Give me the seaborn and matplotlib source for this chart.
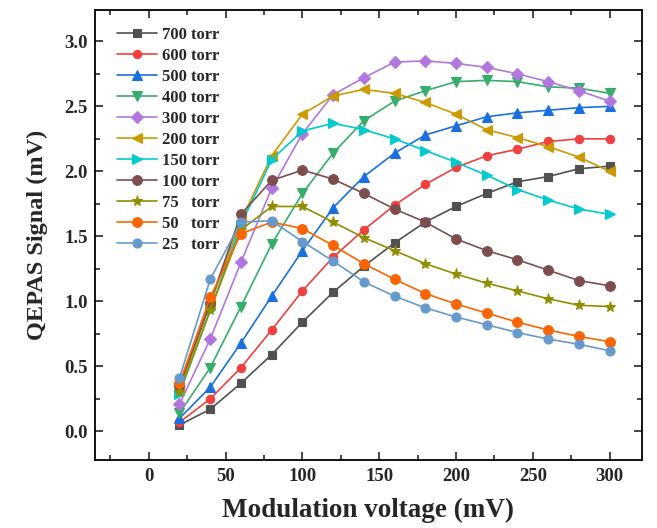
import numpy as np
import pandas as pd
import matplotlib
matplotlib.use("Agg")
import matplotlib.pyplot as plt
from matplotlib.ticker import MultipleLocator
import seaborn as sns

voltage = [20, 40, 60, 80, 100, 120, 140, 160, 180, 200, 220, 240, 260, 280, 300]

p700 = [0.05, 0.17, 0.37, 0.59, 0.84, 1.07, 1.27, 1.45, 1.61, 1.73, 1.83, 1.92, 1.96, 2.02, 2.04]
p600 = [0.07, 0.25, 0.49, 0.78, 1.08, 1.34, 1.55, 1.74, 1.90, 2.03, 2.12, 2.17, 2.23, 2.25, 2.25]
p500 = [0.10, 0.34, 0.68, 1.04, 1.39, 1.72, 1.96, 2.14, 2.28, 2.35, 2.42, 2.45, 2.47, 2.49, 2.50]
p400 = [0.14, 0.49, 0.96, 1.44, 1.83, 2.14, 2.39, 2.54, 2.62, 2.69, 2.70, 2.69, 2.65, 2.64, 2.60]
p300 = [0.21, 0.71, 1.30, 1.87, 2.29, 2.59, 2.72, 2.84, 2.85, 2.83, 2.80, 2.75, 2.69, 2.62, 2.54]
p200 = [0.32, 0.98, 1.62, 2.12, 2.44, 2.58, 2.63, 2.60, 2.53, 2.44, 2.32, 2.26, 2.19, 2.11, 2.00]
p150 = [0.29, 0.93, 1.59, 2.09, 2.31, 2.37, 2.32, 2.25, 2.16, 2.07, 1.97, 1.86, 1.78, 1.71, 1.67]
p100 = [0.35, 0.99, 1.67, 1.93, 2.01, 1.94, 1.83, 1.71, 1.61, 1.48, 1.39, 1.32, 1.24, 1.16, 1.12]
p75 = [0.30, 0.93, 1.55, 1.73, 1.73, 1.61, 1.49, 1.39, 1.29, 1.21, 1.14, 1.08, 1.02, 0.97, 0.96]
p50 = [0.37, 1.03, 1.52, 1.61, 1.56, 1.43, 1.29, 1.17, 1.06, 0.98, 0.91, 0.84, 0.78, 0.73, 0.69]
p25 = [0.41, 1.17, 1.61, 1.62, 1.46, 1.31, 1.15, 1.04, 0.95, 0.88, 0.82, 0.76, 0.71, 0.67, 0.62]

labels = ["700 torr", "600 torr", "500 torr", "400 torr", "300 torr", "200 torr",
          "150 torr", "100 torr", "75   torr", "50   torr", "25   torr"]
series = [p700, p600, p500, p400, p300, p200, p150, p100, p75, p50, p25]
colors = ["#515151", "#F14040", "#1A6FDF", "#37AD6B", "#B177DE", "#CC9900",
          "#00CBCC", "#7D4E4E", "#8E8E00", "#FB6501", "#6699CC"]
markers = ["s", "o", "^", "v", "D", "<", ">", "o", "*", "o", "o"]
msizes = [6, 6, 6.5, 6.5, 6, 6.5, 6.5, 7, 8, 7, 6.5]

sns.set_theme(style="ticks")
plt.rcParams["font.family"] = ["Liberation Serif", "DejaVu Serif"]
plt.rcParams["font.weight"] = "bold"

fig = plt.figure(figsize=(6.57, 5.28), dpi=100)
ax = fig.add_axes([0.1446, 0.1288, 0.8324, 0.852])

for vals, lab, c, m, ms in zip(series, labels, colors, markers, msizes):
    df = pd.DataFrame({"x": voltage, "y": vals})
    sns.lineplot(data=df, x="x", y="y", ax=ax, color=c, marker=m, markersize=ms,
                 markeredgecolor=c, markeredgewidth=0.8, linewidth=1.2, label=lab)

ax.set_xlim(-35, 321)
ax.set_ylim(-0.22, 3.24)
ax.xaxis.set_major_locator(MultipleLocator(50))
ax.xaxis.set_minor_locator(MultipleLocator(25))
ax.yaxis.set_major_locator(MultipleLocator(0.5))
ax.yaxis.set_minor_locator(MultipleLocator(0.25))
ax.tick_params(which="both", direction="in", top=True, right=True, width=1.2)
ax.tick_params(which="major", length=6, labelsize=13.5)
ax.tick_params(which="minor", length=3.5)
ax.tick_params(axis="x", which="major", pad=6)
ax.tick_params(axis="y", which="major", pad=5)
for s in ax.spines.values():
    s.set_linewidth(1.3)
    s.set_color("black")
for t in ax.get_xticklabels() + ax.get_yticklabels():
    t.set_fontweight("bold")
ax.set_yticklabels([f"{v:.1f}" for v in ax.get_yticks()])

ax.set_xlabel("Modulation voltage (mV)", fontsize=19.5, fontweight="bold", labelpad=9)
ax.set_ylabel("QEPAS Signal (mV)", fontsize=17.5, fontweight="bold", labelpad=12)

leg = ax.legend(loc="upper left", frameon=False, prop={"weight": "bold", "size": 12},
                handlelength=2.4, labelspacing=0.3, bbox_to_anchor=(0.022, 0.985),
                borderaxespad=0.2, handletextpad=0.3)

fig.savefig("out.png", dpi=100)
